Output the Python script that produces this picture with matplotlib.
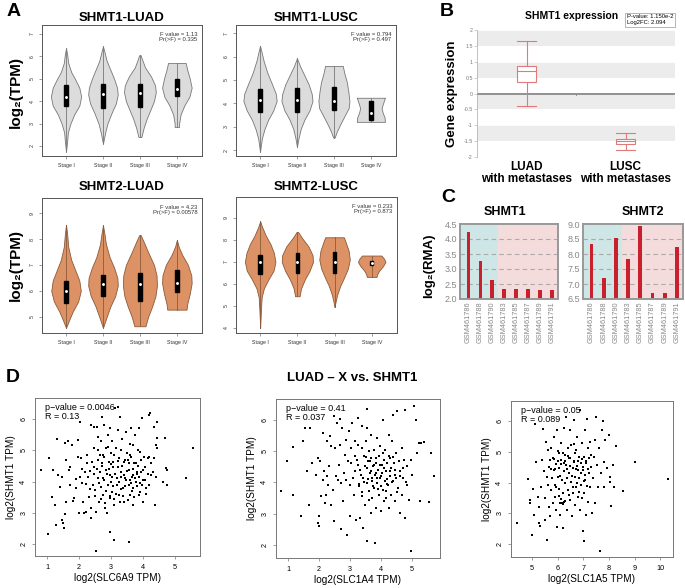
import numpy as np
import matplotlib
matplotlib.use("Agg")
import matplotlib.pyplot as plt
from matplotlib.patches import Rectangle

plt.rcParams['font.family'] = ['Liberation Sans', 'DejaVu Sans']

W, H = 685, 588

# ---------------- data ----------------
stages = ['Stage I', 'Stage II', 'Stage III', 'Stage IV']

# violin outlines: levels (bottom->top) and half widths
shmt1_luad_lv = [[1.75, 2.2, 2.6, 3.0, 3.4, 3.8, 4.2, 4.6, 5.0, 5.3, 5.7, 6.1, 6.36],
                 [2.1, 2.6, 3.0, 3.5, 3.9, 4.3, 4.6, 5.0, 5.4, 5.8, 6.2, 6.45],
                 [2.4, 2.8, 3.2, 3.6, 4.0, 4.4, 4.7, 5.1, 5.5, 5.9, 6.05],
                 [2.85, 3.0, 3.4, 3.8, 4.2, 4.6, 5.0, 5.4, 5.7]]
shmt1_luad_w = [[0, 0.03, 0.05, 0.12, 0.22, 0.36, 0.41, 0.36, 0.24, 0.14, 0.06, 0.03, 0],
                [0, 0.06, 0.12, 0.24, 0.35, 0.40, 0.38, 0.30, 0.20, 0.10, 0.04, 0],
                [0.04, 0.10, 0.18, 0.28, 0.38, 0.43, 0.41, 0.30, 0.14, 0.05, 0.02],
                [0.06, 0.06, 0.10, 0.20, 0.34, 0.40, 0.35, 0.28, 0.24]]
shmt1_luad_box = [(3.78, 4.72, 4.2), (3.7, 4.75, 4.3), (3.75, 4.75, 4.35), (4.25, 5.0, 4.55)]

shmt1_lusc_lv = [[1.93, 2.5, 2.9, 3.3, 3.7, 4.1, 4.4, 4.8, 5.3, 5.8, 6.2, 6.46],
                 [2.14, 2.5, 2.9, 3.3, 3.7, 4.1, 4.4, 4.8, 5.2, 5.6, 5.93],
                 [2.54, 2.8, 3.1, 3.5, 3.8, 4.1, 4.5, 4.9, 5.3, 5.6],
                 [3.21, 3.4, 3.6, 3.8, 4.0, 4.24]]
shmt1_lusc_w = [[0, 0.05, 0.12, 0.22, 0.36, 0.45, 0.43, 0.33, 0.20, 0.10, 0.04, 0],
                [0, 0.04, 0.10, 0.20, 0.34, 0.42, 0.40, 0.32, 0.20, 0.08, 0],
                [0.02, 0.08, 0.17, 0.30, 0.40, 0.42, 0.39, 0.35, 0.28, 0.24],
                [0.38, 0.37, 0.32, 0.29, 0.33, 0.38]]
shmt1_lusc_box = [(3.62, 4.62, 4.15), (3.65, 4.65, 4.15), (3.72, 4.68, 4.1), (3.3, 4.12, 3.6)]

shmt2_luad_lv = [[4.58, 4.9, 5.2, 5.6, 6.0, 6.4, 6.8, 7.2, 7.7, 8.2, 8.55],
                 [4.58, 5.0, 5.4, 5.8, 6.2, 6.5, 6.9, 7.3, 7.8, 8.2, 8.53],
                 [4.64, 5.0, 5.4, 5.8, 6.2, 6.6, 7.0, 7.5, 7.9, 8.15],
                 [5.28, 5.5, 5.9, 6.3, 6.6, 7.0, 7.4, 7.7, 7.96]]
shmt2_luad_w = [[0, 0.09, 0.18, 0.33, 0.40, 0.36, 0.25, 0.14, 0.06, 0.03, 0],
                [0, 0.10, 0.20, 0.33, 0.40, 0.39, 0.30, 0.18, 0.08, 0.04, 0],
                [0.15, 0.22, 0.33, 0.42, 0.46, 0.45, 0.38, 0.22, 0.10, 0.02],
                [0.26, 0.28, 0.35, 0.40, 0.39, 0.30, 0.14, 0.05, 0]]
shmt2_luad_box = [(5.55, 6.4, 6.0), (5.8, 6.6, 6.25), (5.6, 6.7, 6.25), (5.95, 6.8, 6.3)]

shmt2_lusc_lv = [[4.0, 4.8, 5.4, 5.8, 6.2, 6.6, 7.0, 7.4, 7.8, 8.2, 8.6, 8.85],
                 [5.44, 5.8, 6.2, 6.6, 7.0, 7.3, 7.7, 8.1, 8.36],
                 [4.95, 5.2, 5.5, 5.9, 6.3, 6.7, 7.1, 7.5, 7.9, 8.12],
                 [6.32, 6.45, 6.6, 6.8, 7.0, 7.15, 7.29]]
shmt2_lusc_w = [[0, 0.02, 0.04, 0.10, 0.22, 0.36, 0.41, 0.37, 0.28, 0.15, 0.05, 0],
                [0.06, 0.10, 0.20, 0.33, 0.42, 0.41, 0.30, 0.12, 0.02],
                [0, 0.03, 0.07, 0.15, 0.26, 0.36, 0.41, 0.38, 0.30, 0.25],
                [0.13, 0.15, 0.20, 0.30, 0.37, 0.33, 0.26]]
shmt2_lusc_box = [(6.45, 7.32, 7.0), (6.5, 7.4, 7.0), (6.48, 7.45, 7.0), (6.85, 7.05, 6.95)]

anova_txt = ['F value = 1.13\nPr(>F) = 0.335', 'F value = 0.794\nPr(>F) = 0.497',
             'F value = 4.23\nPr(>F) = 0.00578', 'F value = 0.233\nPr(>F) = 0.873']

# panel B
b_groups = ['LUAD\nwith metastases', 'LUSC\nwith metastases']
b_whislo = [-0.4, -1.77]
b_q1 = [0.35, -1.58]
b_med = [0.72, -1.5]
b_q3 = [0.88, -1.43]
b_whishi = [1.65, -1.25]

# panel C
gsm = ['GSM461786', 'GSM461788', 'GSM461790', 'GSM461783',
       'GSM461785', 'GSM461787', 'GSM461789', 'GSM461791']
shmt1_rma = [4.22, 3.28, 2.63, 2.35, 2.33, 2.34, 2.31, 2.31]
shmt2_rma = [8.35, 7.2, 8.53, 7.82, 8.92, 6.7, 6.7, 8.25]

# panel D, points (x gene, SHMT1)
slc6a9_pts = [(0.82, 4.37), (1.03, 2.31), (1.05, 4.76), (1.19, 4.37), (1.16, 3.50), (1.24, 3.25),
              (1.29, 2.61), (1.32, 5.35), (1.35, 4.21), (1.40, 3.83), (1.45, 4.15), (1.47, 2.77),
              (1.50, 2.66), (1.53, 2.52), (1.55, 5.22), (1.58, 4.69), (1.60, 3.35), (1.55, 2.95),
              (1.65, 5.28), (1.68, 4.37), (1.70, 3.89), (1.72, 4.45), (1.78, 5.17), (1.81, 3.37),
              (1.84, 3.46), (1.89, 4.08), (1.91, 3.78), (1.96, 5.33), (1.98, 4.79), (2.02, 5.91),
              (2.02, 4.15), (2.00, 2.98), (2.07, 4.74), (2.10, 3.94), (2.12, 3.35), (2.15, 2.98),
              (2.17, 4.31), (2.20, 3.91), (2.22, 3.03), (2.24, 4.58), (2.27, 4.15), (2.31, 3.51),
              (2.33, 4.33), (2.36, 3.14), (2.38, 5.81), (2.38, 2.82), (2.41, 4.63), (2.43, 3.89),
              (2.45, 5.75), (2.48, 5.06), (2.48, 4.47), (2.51, 3.73), (2.53, 3.03), (2.56, 5.75),
              (2.59, 5.43), (2.59, 4.10), (2.62, 3.35), (2.64, 4.84), (2.66, 4.31), (2.67, 5.28),
              (2.69, 3.83), (2.72, 6.07), (2.72, 4.58), (2.74, 3.57), (2.76, 4.10), (2.79, 5.81),
              (2.79, 4.79), (2.81, 3.14), (2.84, 5.06), (2.84, 4.37), (2.87, 2.98), (2.90, 5.49),
              (2.90, 3.89), (2.93, 4.63), (2.95, 5.70), (2.95, 4.21), (2.97, 2.39), (2.98, 3.46),
              (3.00, 4.90), (3.00, 3.99), (3.03, 5.28), (3.03, 3.67), (3.05, 4.47), (3.07, 4.63),
              (3.10, 2.13), (3.10, 3.25), (3.13, 6.34), (3.16, 5.06), (3.18, 4.10), (3.21, 5.64),
              (3.21, 6.39), (3.24, 3.57), (3.26, 4.74), (3.28, 6.07), (3.31, 4.31), (3.34, 5.35),
              (3.36, 3.78), (3.39, 4.63), (3.41, 3.35), (3.45, 4.10), (3.47, 5.59), (3.49, 4.90),
              (3.52, 4.69), (3.55, 3.89), (3.57, 2.07), (3.57, 4.37), (3.59, 3.57), (3.62, 5.70),
              (3.62, 4.79), (3.65, 4.15), (3.67, 5.17), (3.69, 3.78), (3.73, 4.58), (3.76, 5.49),
              (3.78, 3.99), (3.80, 4.31), (3.83, 5.01), (3.86, 3.57), (3.88, 5.70), (3.88, 4.15),
              (3.93, 4.69), (3.96, 3.89), (3.98, 6.02), (4.01, 4.37), (4.04, 4.79), (4.07, 4.04),
              (4.09, 3.78), (4.14, 4.74), (4.17, 6.13), (4.19, 4.79), (4.21, 6.18), (4.24, 4.21),
              (4.34, 5.75), (4.37, 3.25), (4.40, 5.17), (4.42, 5.91), (4.43, 5.06), (4.45, 5.40),
              (4.40, 4.15), (4.68, 5.40), (4.73, 4.42), (4.76, 4.37), (4.61, 3.99), (4.76, 3.89),
              (5.33, 4.12), (5.57, 5.08), (2.53, 1.78),
              (2.45, 4.25), (2.55, 4.40), (2.62, 3.95), (2.70, 4.50), (2.78, 4.05), (2.85, 3.70),
              (2.92, 4.40), (3.00, 4.55), (3.05, 3.85), (3.12, 4.25), (3.15, 3.60), (3.20, 4.45),
              (3.25, 4.00), (3.30, 3.75), (3.35, 4.50), (3.40, 4.20), (3.45, 3.85), (3.50, 4.35),
              (3.55, 4.60), (3.60, 4.05), (3.65, 3.70), (3.70, 4.40), (3.75, 4.10), (3.80, 3.85),
              (3.85, 4.50), (3.90, 3.95), (3.95, 4.30), (2.35, 3.75), (2.50, 3.55), (2.60, 4.70),
              (2.68, 3.45), (2.75, 4.85), (2.82, 3.30), (2.88, 4.25), (2.95, 3.55), (3.02, 4.15),
              (3.08, 4.85), (3.10, 3.45), (3.18, 3.90), (3.22, 4.65), (3.28, 3.35), (3.32, 4.15),
              (3.38, 3.55), (3.42, 4.70), (3.48, 4.05), (3.52, 3.40), (3.58, 4.85), (3.62, 3.95),
              (3.68, 4.20), (3.72, 3.50), (3.78, 4.60), (3.82, 4.25), (3.90, 3.65), (4.00, 4.05),
              (4.05, 4.45), (4.10, 3.60), (4.15, 4.25), (4.20, 3.90), (4.25, 4.60), (4.30, 4.30),
              (4.35, 4.75), (4.00, 3.35), (3.70, 3.25), (2.90, 5.10), (3.30, 5.00), (3.60, 5.20),
              (2.60, 5.00), (3.90, 4.95), (2.25, 4.85), (2.10, 4.40)]

slc1a4_pts = [(0.78, 3.71), (0.95, 4.67), (1.16, 3.60), (1.16, 5.13), (1.43, 2.91), (1.48, 5.33),
              (1.56, 5.73), (1.62, 4.37), (1.68, 3.28), (1.72, 5.75), (1.77, 4.61), (1.91, 4.24),
              (1.95, 4.77), (1.97, 2.69), (1.99, 2.61), (2.00, 2.91), (2.02, 4.67), (2.05, 3.55),
              (2.11, 4.08), (2.13, 5.57), (2.16, 4.37), (2.18, 3.33), (2.22, 3.60), (2.24, 4.21),
              (2.27, 5.31), (2.29, 3.92), (2.32, 4.54), (2.34, 5.47), (2.37, 5.15), (2.40, 3.28),
              (2.45, 3.76), (2.47, 6.11), (2.48, 2.75), (2.51, 5.09), (2.56, 4.19), (2.59, 5.89),
              (2.61, 4.08), (2.63, 4.56), (2.67, 5.20), (2.69, 6.03), (2.70, 3.97), (2.72, 2.51),
              (2.75, 5.73), (2.77, 3.39), (2.80, 4.29), (2.83, 4.88), (2.86, 4.08), (2.88, 5.36),
              (2.91, 2.32), (2.94, 4.67), (2.97, 5.63), (2.99, 3.92), (3.01, 2.91), (3.02, 5.09),
              (3.04, 4.61), (3.06, 5.89), (3.10, 4.13), (3.12, 3.60), (3.15, 5.31), (3.17, 4.35),
              (3.20, 2.80), (3.23, 4.72), (3.24, 6.05), (3.26, 5.20), (3.28, 3.87), (3.31, 2.85),
              (3.33, 4.40), (3.37, 5.09), (3.39, 5.79), (3.40, 3.55), (3.42, 2.53), (3.42, 4.13),
              (3.44, 4.83), (3.47, 4.51), (3.49, 3.28), (3.51, 5.31), (3.53, 6.34), (3.53, 3.97),
              (3.55, 5.73), (3.56, 2.14), (3.58, 4.67), (3.60, 3.71), (3.61, 4.99), (3.63, 4.29),
              (3.66, 3.01), (3.67, 5.52), (3.69, 4.77), (3.71, 4.03), (3.72, 3.49), (3.74, 4.51),
              (3.76, 5.04), (3.77, 3.81), (3.80, 2.05), (3.80, 4.24), (3.82, 4.77), (3.83, 3.17),
              (3.85, 4.61), (3.87, 5.41), (3.88, 3.97), (3.90, 4.40), (3.92, 3.60), (3.94, 4.83),
              (3.96, 4.13), (3.98, 5.15), (3.99, 3.07), (4.01, 3.87), (4.03, 4.56), (4.04, 4.29),
              (4.06, 6.00), (4.09, 3.39), (4.10, 4.72), (4.12, 4.03), (4.14, 5.04), (4.15, 3.71),
              (4.17, 4.35), (4.19, 4.61), (4.23, 3.92), (4.25, 5.52), (4.26, 3.17), (4.28, 4.19),
              (4.30, 4.77), (4.31, 3.60), (4.33, 4.45), (4.35, 5.31), (4.37, 6.16), (4.39, 4.03),
              (4.41, 4.61), (4.44, 3.39), (4.46, 4.24), (4.49, 4.93), (4.52, 6.27), (4.55, 3.81),
              (4.57, 4.67), (4.60, 3.01), (4.62, 4.35), (4.66, 5.09), (4.69, 3.60), (4.71, 4.13),
              (4.73, 4.72), (4.76, 6.32), (4.78, 2.85), (4.82, 4.51), (4.85, 3.92), (4.90, 3.44),
              (4.95, 4.72), (4.98, 1.79), (5.01, 4.24), (5.05, 6.46), (5.14, 6.00), (5.17, 4.93),
              (5.23, 5.25), (5.25, 3.41), (5.30, 5.25), (5.38, 5.28), (5.54, 3.37), (5.62, 4.93),
              (5.71, 4.19),
              (3.25, 4.55), (3.35, 4.25), (3.45, 4.00), (3.55, 4.45), (3.65, 4.70), (3.70, 4.15),
              (3.75, 3.90), (3.85, 4.30), (3.95, 4.55), (4.00, 4.20), (4.05, 3.75), (4.10, 4.45),
              (4.20, 4.10), (4.25, 4.85), (4.35, 4.00), (4.45, 4.40), (4.50, 3.70), (4.60, 4.20),
              (3.40, 3.70), (3.50, 4.80), (3.60, 3.45), (3.68, 4.35), (3.78, 4.55), (3.90, 3.80),
              (4.05, 4.95), (4.15, 3.50), (4.30, 4.35), (4.40, 4.80), (4.70, 4.45), (3.30, 3.95),
              (3.58, 4.10), (3.88, 4.15), (4.18, 3.95), (4.48, 4.15), (3.15, 4.85), (4.80, 4.00)]

slc1a5_pts = [(4.42, 2.68), (4.84, 4.11), (4.91, 3.44), (4.94, 3.35), (5.00, 2.30), (5.04, 3.79),
              (5.06, 2.95), (5.10, 5.89), (5.17, 4.68), (5.22, 3.53), (5.26, 2.68), (5.29, 3.22),
              (5.32, 2.59), (5.35, 3.86), (5.39, 4.74), (5.43, 5.73), (5.45, 4.36), (5.49, 2.79),
              (5.52, 3.49), (5.55, 5.33), (5.58, 2.14), (5.58, 4.19), (5.61, 3.92), (5.62, 5.06),
              (5.65, 3.22), (5.68, 4.52), (5.69, 4.74), (5.71, 2.90), (5.74, 3.76), (5.75, 5.11),
              (5.78, 4.14), (5.81, 3.35), (5.82, 4.79), (5.84, 4.41), (5.87, 5.49), (5.88, 3.92),
              (5.91, 3.54), (5.94, 3.11), (5.95, 4.61), (5.97, 2.57), (5.97, 5.71), (6.00, 4.19),
              (6.01, 5.01), (6.04, 3.78), (6.06, 4.46), (6.08, 2.95), (6.10, 3.33), (6.13, 4.74),
              (6.14, 5.28), (6.17, 4.09), (6.19, 2.52), (6.21, 3.65), (6.23, 5.76), (6.23, 4.36),
              (6.26, 3.38), (6.27, 4.90), (6.30, 3.98), (6.32, 6.14), (6.34, 4.57), (6.36, 3.11),
              (6.39, 5.11), (6.40, 3.76), (6.43, 4.30), (6.45, 4.79), (6.47, 3.44), (6.49, 5.71),
              (6.52, 4.03), (6.53, 5.22), (6.56, 2.90), (6.58, 4.46), (6.60, 3.65), (6.62, 6.03),
              (6.65, 4.68), (6.66, 4.19), (6.69, 3.28), (6.71, 5.06), (6.73, 3.86), (6.75, 5.49),
              (6.78, 4.41), (6.79, 3.54), (6.82, 4.84), (6.84, 4.14), (6.86, 6.36), (6.88, 3.11),
              (6.91, 4.63), (6.92, 3.92), (6.95, 5.28), (6.97, 4.41), (6.99, 2.41), (7.01, 2.09),
              (7.01, 3.65), (7.04, 4.84), (7.05, 5.71), (7.08, 4.08), (7.10, 4.63), (7.12, 2.95),
              (7.14, 6.08), (7.17, 5.11), (7.18, 3.38), (7.21, 4.30), (7.23, 4.79), (7.25, 3.86),
              (7.27, 5.33), (7.30, 4.52), (7.34, 3.01), (7.38, 4.14), (7.40, 4.84), (7.44, 5.38),
              (7.47, 3.33), (7.49, 6.12), (7.53, 4.58), (7.56, 3.86), (7.60, 5.11), (7.66, 1.76),
              (7.69, 4.30), (7.73, 5.71), (7.77, 6.01), (7.79, 4.68), (7.82, 3.86), (7.86, 5.38),
              (7.92, 4.46), (7.99, 5.55), (8.03, 4.19), (8.05, 4.03), (8.09, 3.24), (8.16, 4.57),
              (8.18, 3.86), (8.29, 5.19), (8.53, 3.71), (9.03, 4.68), (10.29, 4.12),
              (5.90, 4.45), (6.00, 4.70), (6.05, 4.95), (6.10, 4.20), (6.15, 3.45), (6.20, 3.30),
              (6.25, 4.65), (6.28, 3.40), (6.35, 4.45), (6.42, 4.85), (6.50, 4.55), (6.55, 4.20),
              (6.62, 4.70), (6.70, 4.45), (6.75, 4.00), (6.80, 4.70), (6.90, 4.30), (6.95, 4.75),
              (7.00, 4.50), (7.06, 4.25), (7.12, 4.70), (7.20, 4.45), (7.30, 4.90), (5.85, 4.75),
              (5.95, 3.85), (6.05, 3.55), (6.18, 3.35), (6.22, 4.95), (6.38, 4.15), (6.48, 4.80),
              (6.58, 3.85), (6.68, 4.95), (6.76, 4.55), (6.85, 3.70), (7.02, 4.05), (7.15, 3.90),
              (5.75, 4.45), (6.12, 4.60), (6.30, 4.70), (6.45, 3.60), (6.65, 5.25), (6.95, 3.50)]

scatter_genes = ['SLC6A9', 'SLC1A4', 'SLC1A5']
scatter_stats = ['p\u2212value = 0.0046\nR = 0.13', 'p\u2212value = 0.41\nR = 0.037',
                 'p\u2212value = 0.05\nR = 0.089']


def ax_px(fig, x0, y0, x1, y1):
    return fig.add_axes([x0 / W, 1 - y1 / H, (x1 - x0) / W, (y1 - y0) / H])


def ftext(fig, x, y, s, **kw):
    fig.text(x / W, 1 - y / H, s, **kw)


def violin_panel(ax, lvs, ws, boxes, face, edge, yt, ylim, note):
    for i in range(4):
        pos = i + 1
        yy = np.linspace(lvs[i][0], lvs[i][-1], 200)
        ww = np.interp(yy, lvs[i], ws[i])
        ax.fill_betweenx(yy, pos - ww, pos + ww, facecolor=face, edgecolor=edge, lw=0.6)
        ax.plot([pos, pos], [lvs[i][0], lvs[i][-1]], color=edge, lw=0.6)
        q1, q3, med = boxes[i]
        ax.add_patch(Rectangle((pos - 0.045, q1), 0.09, q3 - q1, color='black', zorder=3))
        ax.plot(pos, med, 'o', color='white', ms=1.1, zorder=4)
    ax.set_xlim(0.35, 4.68)
    ax.set_ylim(*ylim)
    ax.set_xticks([1, 2, 3, 4])
    ax.set_xticklabels(stages, fontsize=3.8, color='#333333')
    ax.set_yticks(yt)
    ax.set_yticklabels([str(v) for v in yt], fontsize=3.8, rotation=90, va='center', color='#333333')
    ax.tick_params(length=2, width=0.4, pad=3, color='#555555')
    for sp in ax.spines.values():
        sp.set_color('#555555')
        sp.set_linewidth(0.7)
    ax.text(0.97, 0.95, note, transform=ax.transAxes, ha='right', va='top',
            fontsize=4.2, color='#333333', linespacing=1.1)


def panel_a(fig):
    ftext(fig, 14, 12, 'A', fontsize=14, fontweight='bold', ha='center', va='center')
    gray_f, gray_e = '#dcdcdc', '#777777'
    org_f, org_e = '#dc9264', '#8a5a3a'
    a1 = ax_px(fig, 42, 25, 202, 156)
    violin_panel(a1, shmt1_luad_lv, shmt1_luad_w, shmt1_luad_box, gray_f, gray_e,
                 [2, 3, 4, 5, 6, 7], (1.55, 7.4), anova_txt[0])
    a2 = ax_px(fig, 236, 25, 396, 156)
    violin_panel(a2, shmt1_lusc_lv, shmt1_lusc_w, shmt1_lusc_box, gray_f, gray_e,
                 [2, 3, 4, 5, 6, 7], (1.75, 7.35), anova_txt[1])
    a3 = ax_px(fig, 42, 198, 202, 333)
    violin_panel(a3, shmt2_luad_lv, shmt2_luad_w, shmt2_luad_box, org_f, org_e,
                 [5, 6, 7, 8, 9], (4.38, 9.58), anova_txt[2])
    a4 = ax_px(fig, 236, 197, 397, 333)
    violin_panel(a4, shmt2_lusc_lv, shmt2_lusc_w, shmt2_lusc_box, org_f, org_e,
                 [4, 5, 6, 7, 8, 9], (3.77, 9.95), anova_txt[3])
    for x, y, t in [(122, 18, 'SHMT1-LUAD'), (316, 18, 'SHMT1-LUSC'),
                    (122, 187, 'SHMT2-LUAD'), (316, 187, 'SHMT2-LUSC')]:
        ftext(fig, x, y, t, fontsize=9.5, fontweight='bold', ha='center', va='center')
    for y in [92, 265]:
        ftext(fig, 16, y, 'log\u2082(TPM)', fontsize=11, fontweight='bold', rotation=90,
              ha='center', va='center')


def panel_b(fig):
    ftext(fig, 447, 12, 'B', fontsize=14, fontweight='bold', ha='center', va='center')
    ax = ax_px(fig, 477, 30, 675, 157)
    for lo in [1.5, 0.5, -0.5, -1.5]:
        ax.axhspan(lo, lo + 0.5, color='#ececec', lw=0, zorder=0)
    for v in np.arange(-2, 2.01, 0.5):
        ax.axhline(v, color='white', lw=0.6, zorder=1)
    ax.axhline(0, color='#888888', lw=1.3, zorder=2)
    c = '#e07a7a'
    for i in range(2):
        ax.plot([i, i], [b_whislo[i], b_q1[i]], color=c, lw=0.8)
        ax.plot([i, i], [b_q3[i], b_whishi[i]], color=c, lw=0.8)
        for v in [b_whislo[i], b_whishi[i]]:
            ax.plot([i - 0.1, i + 0.1], [v, v], color=c, lw=0.8)
        ax.add_patch(Rectangle((i - 0.1, b_q1[i]), 0.2, b_q3[i] - b_q1[i],
                               facecolor='white', edgecolor=c, lw=0.8, zorder=3))
        ax.plot([i - 0.1, i + 0.1], [b_med[i], b_med[i]], color=c, lw=0.8, zorder=4)
    ax.plot([0.5, 0.5], [0, -0.04], color='#888888', lw=0.6)
    ax.set_xlim(-0.5, 1.5)
    ax.set_ylim(-2, 2)
    ax.set_yticks(np.arange(-2, 2.01, 0.5))
    ax.set_yticklabels(['-2', '-1.5', '-1', '-0.5', '0', '0.5', '1', '1.5', '2'],
                       fontsize=3.8, color='#777777')
    ax.set_xticks([0, 1])
    ax.set_xticklabels(b_groups, fontsize=8.5, fontweight='bold', linespacing=1.0)
    ax.tick_params(axis='y', length=2, width=0.4, color='#aaaaaa', pad=1)
    ax.tick_params(axis='x', length=0, pad=3)
    for k in ['top', 'right', 'bottom']:
        ax.spines[k].set_visible(False)
    ax.spines['left'].set_color('#aaaaaa')
    ax.spines['left'].set_linewidth(0.5)
    ax.set_ylabel('Gene expression', fontsize=9.5, fontweight='bold', labelpad=4)
    ftext(fig, 572, 16, 'SHMT1 expression', fontsize=7.5, fontweight='bold', ha='center', va='center')
    ftext(fig, 627, 14.5, 'P-value: 1.150e-2\nLog2FC: 2.094', fontsize=4.2, ha='left', va='top',
          linespacing=1.1, bbox=dict(boxstyle='square,pad=0.3', fc='white', ec='#999999', lw=0.5))


def bar_panel(ax, vals, ylim, yt):
    x = np.arange(len(vals))
    ax.axvspan(-0.7, 2.5, color='#cfe6e6', lw=0, zorder=0)
    ax.axvspan(2.5, 7.5, color='#f5dcdc', lw=0, zorder=0)
    for v in yt[1:-1]:
        ax.axhline(v, color='#aaaaaa', lw=0.8, ls=(0, (4, 3)), zorder=1)
    ax.bar(x, np.array(vals) - ylim[0], bottom=ylim[0], width=0.3, color='#c8202c', zorder=2)
    ax.set_xlim(-0.7, 7.5)
    ax.set_ylim(*ylim)
    ax.set_yticks(yt)
    ax.set_yticklabels(['%.1f' % v for v in yt], fontsize=6.5, color='#888888')
    ax.set_xticks(x)
    ax.set_xticklabels(gsm, rotation=90, fontsize=5.3, color='#888888')
    ax.tick_params(length=0, pad=2)
    for sp in ax.spines.values():
        sp.set_color('#999999')
        sp.set_linewidth(1.4)


def panel_c(fig):
    ftext(fig, 448, 197, 'C', fontsize=14, fontweight='bold', ha='center', va='center')
    c1 = ax_px(fig, 460, 224, 558, 299)
    bar_panel(c1, shmt1_rma, (2.0, 4.5), [2.0, 2.5, 3.0, 3.5, 4.0, 4.5])
    c2 = ax_px(fig, 583, 224, 683, 299)
    bar_panel(c2, shmt2_rma, (6.5, 9.0), [6.5, 7.0, 7.5, 8.0, 8.5, 9.0])
    ftext(fig, 505, 212, 'SHMT1', fontsize=9, fontweight='bold', ha='center', va='center')
    ftext(fig, 643, 212, 'SHMT2', fontsize=9, fontweight='bold', ha='center', va='center')
    ftext(fig, 429, 266, 'log\u2082(RMA)', fontsize=9.5, fontweight='bold', rotation=90,
          ha='center', va='center')


def scatter_panel(ax, pts, gene, stat, xt, xlim, ylim):
    p = np.array(pts)
    ax.scatter(p[:, 0], p[:, 1], s=2.2, c='black', marker='s', lw=0)
    ax.set_xlim(*xlim)
    ax.set_ylim(*ylim)
    ax.set_xticks(xt)
    ax.set_xticklabels([str(v) for v in xt], fontsize=5.2)
    ax.set_yticks([2, 3, 4, 5, 6])
    ax.set_yticklabels(['2', '3', '4', '5', '6'], fontsize=5.2, rotation=90, va='center')
    ax.tick_params(length=2.5, width=0.4, pad=3, color='#555555')
    for sp in ax.spines.values():
        sp.set_color('#777777')
        sp.set_linewidth(0.7)
    ax.set_xlabel('log2(%s TPM)' % gene, fontsize=7.2, labelpad=1.5)
    ax.set_ylabel('log2(SHMT1 TPM)', fontsize=7.2, labelpad=3)
    ax.text(0.06, 0.97, stat, transform=ax.transAxes, ha='left', va='top', fontsize=6.5,
            linespacing=1.0)


def panel_d(fig):
    ftext(fig, 13, 377, 'D', fontsize=14, fontweight='bold', ha='center', va='center')
    ftext(fig, 352, 378, 'LUAD \u2013 X vs. SHMT1', fontsize=9.5, fontweight='bold',
          ha='center', va='center')
    d1 = ax_px(fig, 35, 398, 200, 556)
    scatter_panel(d1, slc6a9_pts, scatter_genes[0], scatter_stats[0], [1, 2, 3, 4, 5],
                  (0.62, 5.78), (1.62, 6.67))
    d2 = ax_px(fig, 276, 399, 440, 558)
    scatter_panel(d2, slc1a4_pts, scatter_genes[1], scatter_stats[1], [1, 2, 3, 4, 5],
                  (0.61, 5.9), (1.58, 6.67))
    d3 = ax_px(fig, 511, 401, 673, 557)
    scatter_panel(d3, slc1a5_pts, scatter_genes[2], scatter_stats[2], [5, 6, 7, 8, 9, 10],
                  (4.18, 10.5), (1.58, 6.65))


def main():
    fig = plt.figure(figsize=(W / 100, H / 100), dpi=100)
    panel_a(fig)
    panel_b(fig)
    panel_c(fig)
    panel_d(fig)
    fig.savefig('out.png', dpi=100)


if __name__ == "__main__":
    main()
